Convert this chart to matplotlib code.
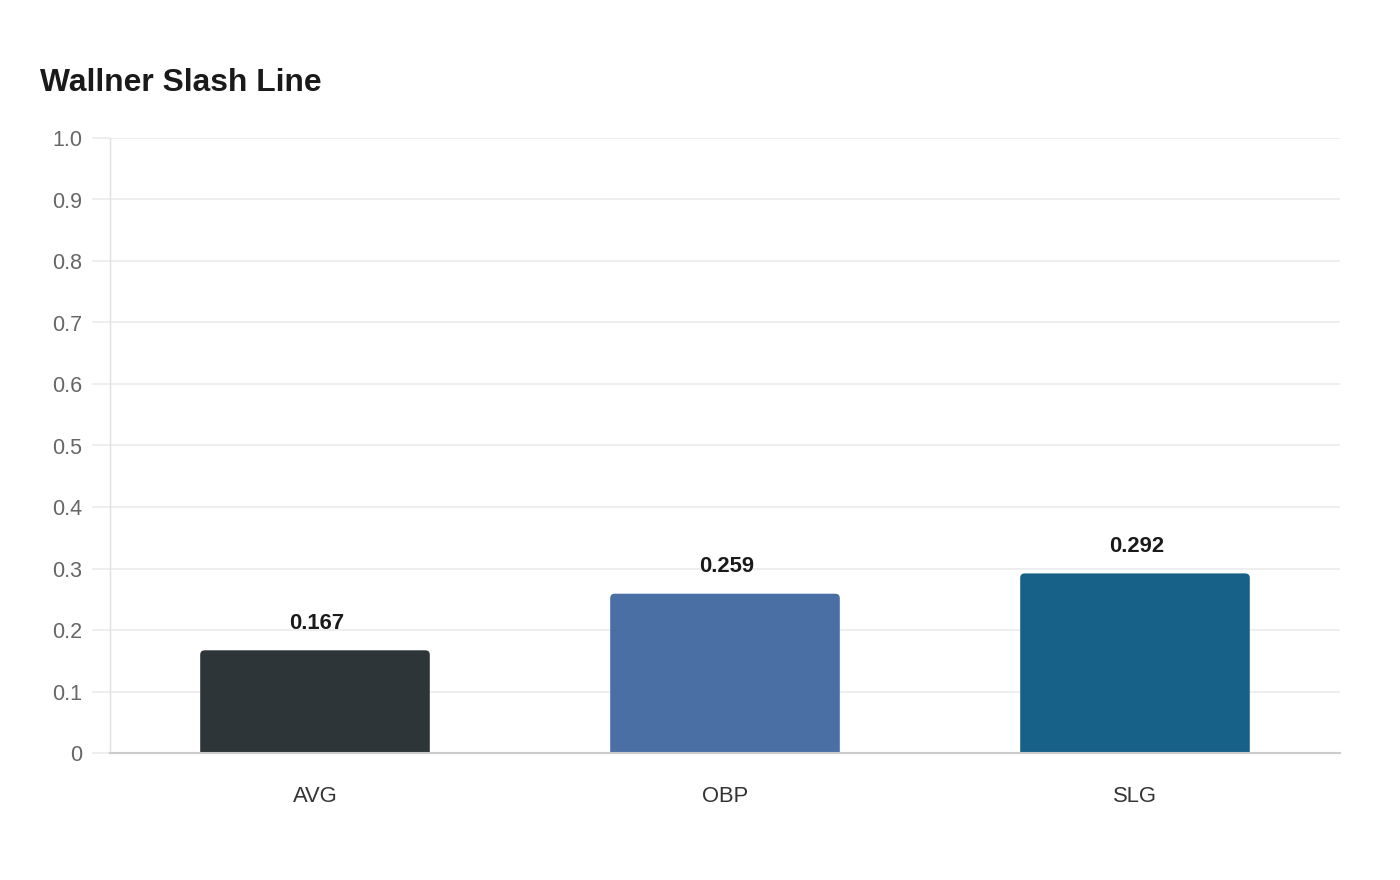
import matplotlib
matplotlib.use("Agg")
import matplotlib.pyplot as plt
from matplotlib.patches import FancyBboxPatch

plt.rcParams['font.family'] = ['Liberation Sans', 'DejaVu Sans']

# data
cats = ['AVG', 'OBP', 'SLG']
vals = [0.167, 0.259, 0.292]
colors = ['#2e3538', '#4a6fa5', '#176087']
yticks = [0, 0.1, 0.2, 0.3, 0.4, 0.5, 0.6, 0.7, 0.8, 0.9, 1.0]
ytick_labels = ['0', '0.1', '0.2', '0.3', '0.4', '0.5', '0.6', '0.7', '0.8', '0.9', '1.0']

fig = plt.figure(figsize=(14, 8.8), dpi=100)
ax = fig.add_axes([110 / 1400, 1 - 753 / 880, 1230 / 1400, 615 / 880])

w = 0.56
for i, (v, c) in enumerate(zip(vals, colors)):
    # rounded top corners; bottom corners hidden below the axis
    p = FancyBboxPatch((i - w / 2, -0.02), w, v + 0.02,
                       boxstyle="round,pad=0,rounding_size=0.011",
                       mutation_aspect=410 / 615,
                       facecolor=c, edgecolor='none', zorder=3)
    ax.add_patch(p)
    ax.annotate(f'{v:.3f}', (i, v), xytext=(1.5, 12), textcoords='offset points',
                ha='center', va='bottom', fontsize=15.8, fontweight='bold',
                color='#1a1a1a')

ax.set_xlim(-0.5, 2.5)
ax.set_ylim(0, 1.0)
ax.set_xticks(range(len(cats)))
ax.set_xticklabels(cats)
ax.set_yticks(yticks)
ax.set_yticklabels(ytick_labels)

ax.grid(axis='y', color='#ebebeb', linewidth=1.2, zorder=0)
ax.tick_params(axis='y', length=13, color='#ebebeb', width=1.2, pad=7,
               labelsize=15.5, labelcolor='#666666')
ax.tick_params(axis='x', length=0, pad=23.5, labelsize=15.8, labelcolor='#333333')

for s in ['top', 'right']:
    ax.spines[s].set_visible(False)
ax.spines['left'].set_color('#e0e0e0')
ax.spines['left'].set_linewidth(1)
ax.spines['bottom'].set_color('#cccccc')
ax.spines['bottom'].set_linewidth(1.5)
ax.spines['bottom'].set_zorder(4)

fig.text(40 / 1400, 1 - 83 / 880, 'Wallner Slash Line', fontsize=22.9,
         fontweight='bold', color='#1a1a1a', ha='left', va='center')

fig.savefig('out.png', dpi=100, facecolor='white')
